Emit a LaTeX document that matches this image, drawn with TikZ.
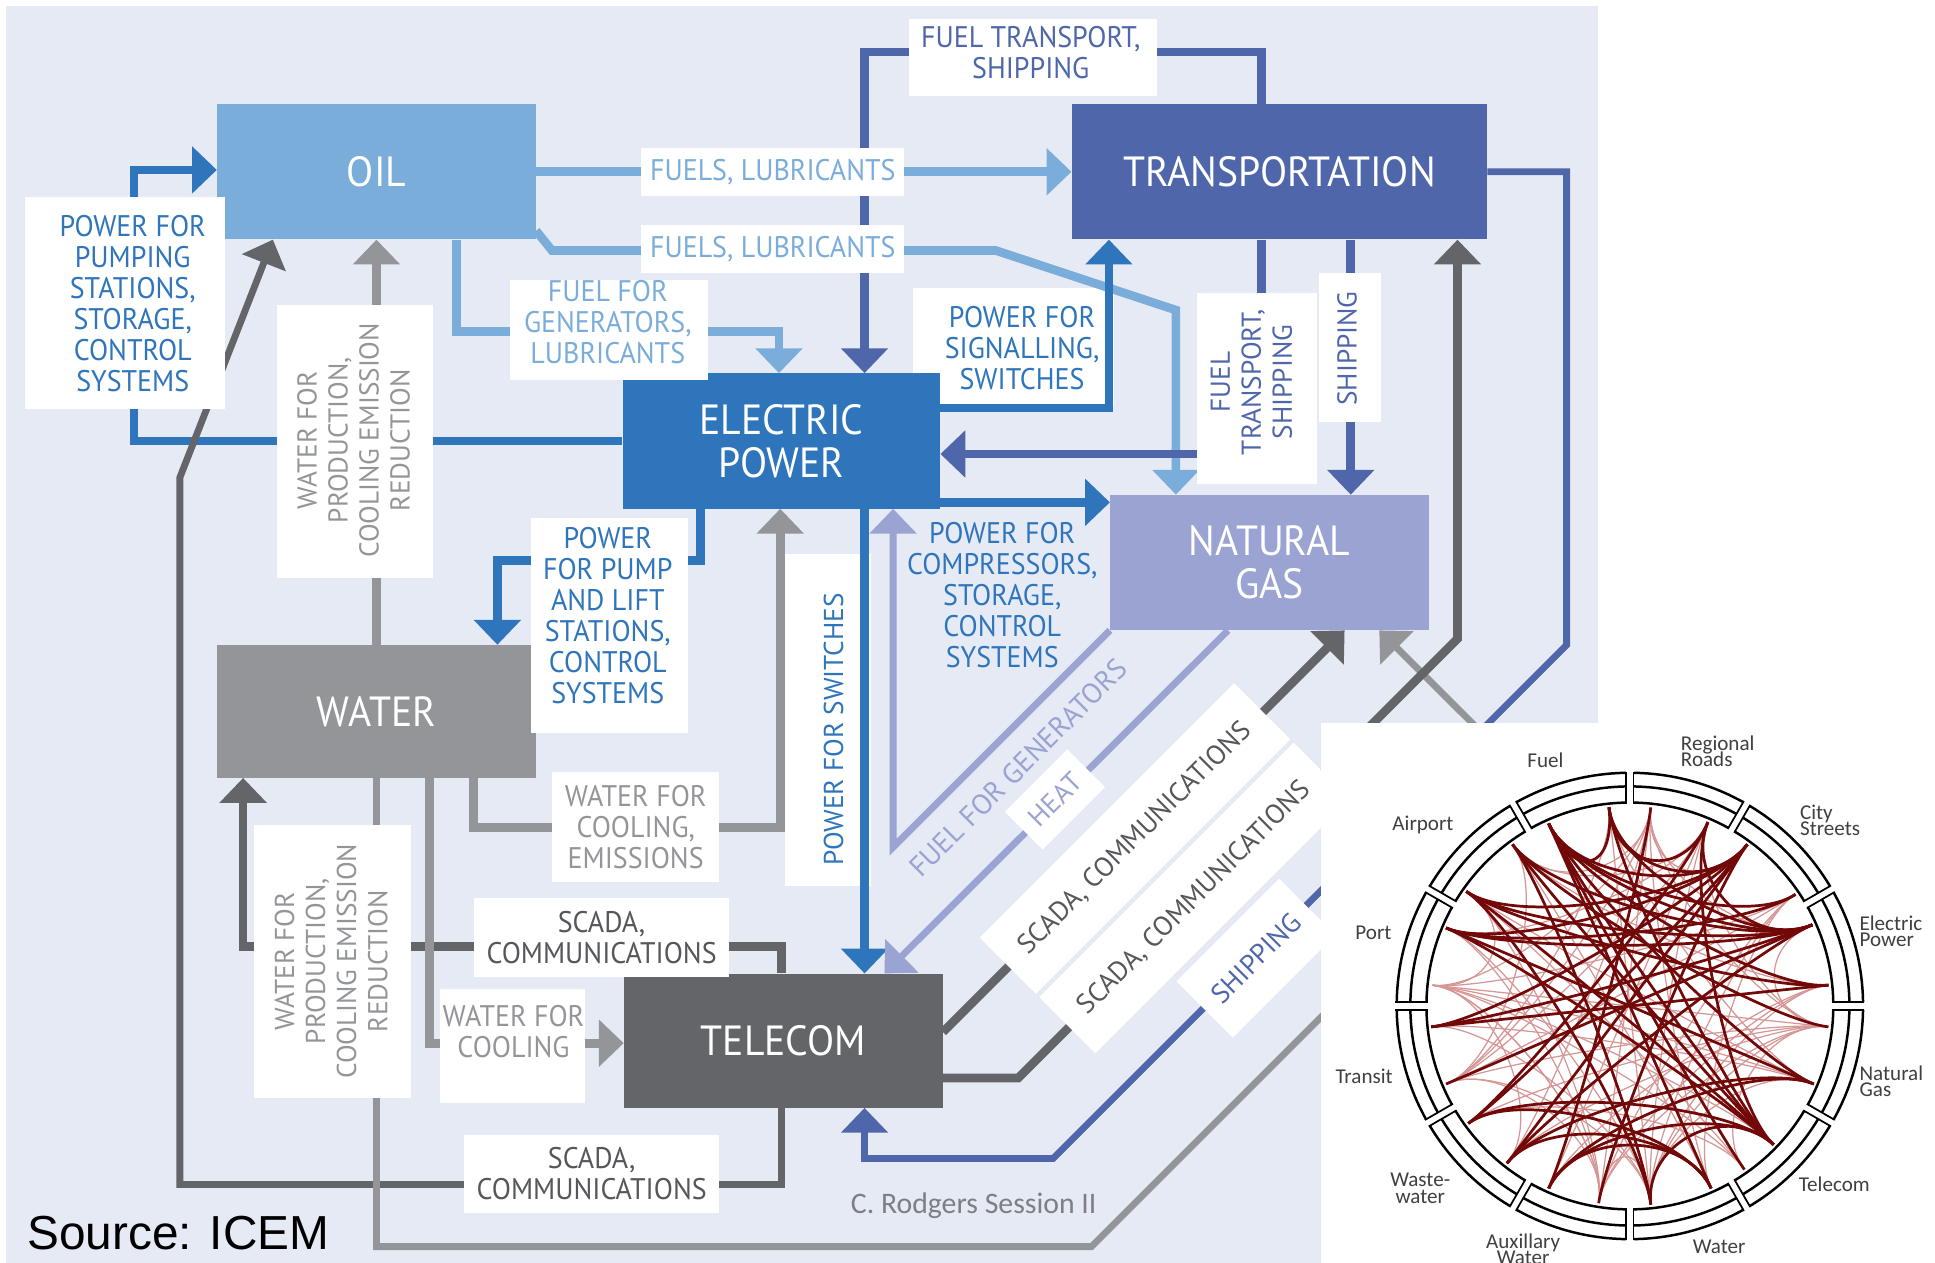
\documentclass[tikz,border=0pt]{standalone}
\usepackage{fontspec}
\setmainfont{PT Sans}
\newfontfamily\dinf[FakeStretch=0.94]{PT Sans}
\newfontfamily\dinw{PT Sans}
\newfontfamily\carl{Carlito}
\newfontfamily\arialf{Liberation Sans}
\usetikzlibrary{arrows.meta}
\definecolor{bgc}{RGB}{230,234,245}
\definecolor{oilc}{RGB}{123,173,218}
\definecolor{transc}{RGB}{79,103,170}
\definecolor{epc}{RGB}{46,117,187}
\definecolor{ngc}{RGB}{154,163,209}
\definecolor{waterc}{RGB}{147,149,152}
\definecolor{telc}{RGB}{99,101,105}
\definecolor{teltext}{RGB}{85,87,91}
\definecolor{chordd}{RGB}{115,8,8}
\definecolor{chordl}{RGB}{214,150,150}
\definecolor{lblc}{RGB}{64,64,64}
\definecolor{rodc}{RGB}{125,127,132}
\pgfdeclarelayer{bg}
\pgfdeclarelayer{under}
\pgfdeclarelayer{lines}
\pgfdeclarelayer{top}
\pgfsetlayers{bg,under,lines,main,top}
\tikzset{
  conn/.style={line width=7pt},
  thinconn/.style={line width=5.5pt},
  tip/.style={-{Triangle[width=37pt,length=20pt]}},
  sys/.style={minimum width=257pt, minimum height=109pt, inner sep=0pt, text=white,
    font=\dinf\fontsize{34}{35}\selectfont, align=center},
  lbox/.style={fill=white, inner sep=0pt},
  ltext/.style={inner sep=0pt, align=center, font=\dinf\fontsize{24}{25}\selectfont},
  rtext/.style={inner sep=0pt, align=center, font=\dinw\fontsize{22}{25}\selectfont, rotate=90},
  dtext/.style={inner sep=0pt, align=center, font=\dinw\fontsize{22}{25}\selectfont, rotate=45},
  dch/.style={chordd, line width=2.2pt},
  lch/.style={chordl, line width=1pt},
  clbl/.style={inner sep=0pt, text=lblc, font=\carl\fontsize{17}{17}\selectfont, align=left},
}
\begin{document}
\begin{tikzpicture}[x=1pt,y=-1pt]
\useasboundingbox (0,0) rectangle (1560,1018);
\begin{pgfonlayer}{bg}
\fill[bgc] (5,5) rectangle (1288,1018);
\end{pgfonlayer}

% system nodes
\node[sys, fill=oilc] (oil) at (303.5,138.5) {OIL};
\node[sys, fill=transc, minimum width=335pt] (trans) at (1031.5,138.5) {TRANSPORTATION};
\node[sys, fill=epc, minimum width=256pt] (ep) at (630,355.5) {ELECTRIC\\POWER};
\node[sys, fill=ngc] (ng) at (1023.5,453.5) {NATURAL\\GAS};
\node[sys, fill=waterc, minimum height=107pt] (water) at (303.5,573.5) {WATER};
\node[sys, fill=telc, minimum height=108pt] (tel) at (631.5,839) {TELECOM};

% boxes under lines
\begin{pgfonlayer}{under}
\node[lbox, minimum width=162pt, minimum height=96pt] (bF) at (817,280) {};
\node[lbox, minimum width=69pt, minimum height=267pt] (bK) at (667.5,580.5) {};
\end{pgfonlayer}
\node[ltext, text=epc] (tF) at (824,281) {POWER FOR\\SIGNALLING,\\SWITCHES};
\node[rtext, text=epc] (tK) at (672,588) {POWER FOR SWITCHES};

% label boxes
\node[lbox, minimum width=161pt, minimum height=171pt] (bA) at (100.5,244.5) {};
\node[ltext, text=epc] (tA) at (107,245) {POWER FOR\\PUMPING\\STATIONS,\\STORAGE,\\CONTROL\\SYSTEMS};
\node[lbox, minimum width=212pt, minimum height=39pt, ltext, text=oilc] (bB) at (623,138.5) {FUELS, LUBRICANTS};
\node[lbox, minimum width=212pt, minimum height=39pt, ltext, text=oilc] (bC) at (623,200.5) {FUELS, LUBRICANTS};
\node[lbox, minimum width=160pt, minimum height=80pt] (bD) at (491,266) {};
\node[ltext, text=oilc] (tD) at (490,260) {FUEL FOR\\GENERATORS,\\LUBRICANTS};
\node[lbox, minimum width=200pt, minimum height=62pt] (bE) at (833,46) {};
\node[ltext, text=transc] (tE) at (831,42) {FUEL TRANSPORT,\\SHIPPING};
\node[lbox, minimum width=97pt, minimum height=154pt] (bG) at (1013.5,313) {};
\node[rtext, text=transc] (tG) at (1009,308) {FUEL\\TRANSPORT,\\SHIPPING};
\node[lbox, minimum width=50pt, minimum height=120pt] (bH) at (1088,280) {};
\node[rtext, text=transc] (tH) at (1086,281) {SHIPPING};
\node[ltext, text=epc] (tI) at (808,480) {POWER FOR\\COMPRESSORS,\\STORAGE,\\CONTROL\\SYSTEMS};
\node[lbox, minimum width=127pt, minimum height=173pt] (bJ) at (491.5,504.5) {};
\node[ltext, text=epc] (tJ) at (490,496) {POWER\\FOR PUMP\\AND LIFT\\STATIONS,\\CONTROL\\SYSTEMS};
\node[lbox, minimum width=135pt, minimum height=89pt, ltext, text=waterc] (bL) at (512.5,666.5) {WATER FOR\\COOLING,\\EMISSIONS};
\node[lbox, minimum width=126pt, minimum height=220pt] (bM) at (286,356) {};
\node[rtext, text=waterc] (tM) at (285,355) {WATER FOR\\PRODUCTION,\\COOLING EMISSION\\REDUCTION};
\node[lbox, minimum width=126pt, minimum height=220pt] (bP) at (268,775) {};
\node[rtext, text=waterc] (tP) at (267,775) {WATER FOR\\PRODUCTION,\\COOLING EMISSION\\REDUCTION};
\node[lbox, minimum width=117pt, minimum height=92pt] (bN) at (413.5,843) {};
\node[ltext, text=waterc] (tN) at (414,832) {WATER FOR\\COOLING};
\node[lbox, minimum width=206pt, minimum height=64pt, ltext, text=teltext] (bO) at (485,756) {SCADA,\\COMMUNICATIONS};
\node[lbox, minimum width=206pt, minimum height=63pt, ltext, text=teltext] (bQ) at (477,946.5) {SCADA,\\COMMUNICATIONS};

% diagonal bands
\node[lbox, dtext, minimum width=290pt, minimum height=64pt, text=teltext] (band1) at (915,676) {SCADA, COMMUNICATIONS};
\node[lbox, dtext, minimum width=290pt, minimum height=64pt, text=teltext] (band2) at (963,724) {SCADA, COMMUNICATIONS};
\node[lbox, dtext, minimum width=117pt, minimum height=64pt, text=transc] (band3) at (1012.5,772.5) {SHIPPING};
\node[lbox, dtext, minimum width=71pt, minimum height=43pt, text=ngc] (heat) at (850.5,644.5) {HEAT};
\node[dtext, text=ngc, font=\dinw\fontsize{23}{25}\selectfont] (tU) at (821,619) {FUEL FOR GENERATORS};

% connectors
\begin{pgfonlayer}{lines}
\draw[conn, tip, epc] (ep.west) -- (108,355.5) -- (108,137) -- (oil.west |- 0,137);
\draw[conn, tip, oilc] (oil.east) -- (trans.west);
\draw[conn, tip, oilc] (oil.east |- 0,186) -- (445,202) -- (803,202) -- (948,250) -- (ng.north -| 948,0);
\draw[conn, tip, oilc] (oil.south -| 368,0) -- (368,267) -- (628,267) -- (ep.north -| 628,0);
\draw[conn, tip, transc] (trans.north -| 1017,0) -- (1017,42) -- (697,42) -- (ep.north -| 697,0);
\draw[conn, tip, epc] (ep.east |- 0,329) -- (894,329) -- (trans.south -| 894,0);
\draw[conn, tip, transc] (trans.south -| 1017,0) -- (1017,366) -- (ep.east |- 0,366);
\draw[conn, tip, transc] (trans.south -| 1089,0) -- (ng.north -| 1089,0);
\draw[conn, tip, epc] (ep.east |- 0,405) -- (ng.west |- 0,405);
\draw[conn, tip, epc] (ep.south -| 565,0) -- (565,452) -- (401,452) -- (water.north -| 401,0);
\draw[conn, tip, epc] (ep.south -| 697,0) -- (tel.north -| 697,0);
\draw[conn, tip, waterc] (water.south -| 382,0) -- (382,667) -- (629,667) -- (ep.south -| 629,0);
\draw[conn, tip, waterc] (water.north) -- (oil.south);
\draw[conn, tip, telc] (tel.north -| 630,0) -- (630,763) -- (196,763) -- (water.south -| 196,0);
\draw[conn, tip, waterc] (water.south -| 346,0) -- (346,841) -- (tel.west |- 0,841);
\draw[thinconn, tip, telc] (tel.south -| 630,0) -- (630,955) -- (145,955) -- (145,385) -- (oil.south -| 220,0);
\draw[thinconn, tip, waterc] (water.south) -- (303.5,1005) -- (880,1005) -- (1244.5,640.5) -- (ng.south -| 1112,0);
\draw[conn, tip, telc] (tel.east |- 0,869) -- (821,869) -- (1175,515) -- (trans.south -| 1175,0);
\draw[conn, tip, telc] (tel.east |- 0,832) -- (ng.south -| 1084,0);
\draw[thinconn, tip, transc] (trans.east) -- (1263,138.5) -- (1263,520) -- (849,934) -- (697,934) -- (tel.south -| 697,0);
\draw[thinconn, tip, ngc] (ng.south west) -- (720,683) -- (ep.south -| 720,0);
\draw[thinconn, tip, ngc] (ng.south -| 990,0) -- (tel.north -| 713,0);
\end{pgfonlayer}

\node[inner sep=0pt, text=rodc, font=\carl\fontsize{24}{24}\selectfont] (rod) at (785,972) {C. Rodgers Session II};
\node[inner sep=0pt, anchor=base west, font=\arialf\fontsize{38.5}{39}\selectfont] (src) at (22,1007) {Source: ICEM};

% chord diagram panel
\begin{pgfonlayer}{top}
\fill[white] (1065,583) rectangle (1560,1018);
\begin{scope}[shift={(1314,811)}]
\foreach \p/\q in {84/-99, 84/-6, 84/174, 84/-157, 84/24, 84/126, 84/-66, -99/174, -99/-6, -99/34, -99/-157, -99/6, 174/-6, 174/-23, 174/34, 174/-44, 174/-128, -157/-6, -157/34, -157/67, -157/-84, -6/67, -6/126, -6/-128, -6/-84, 6/-84, 6/-114, 6/126, 34/-84, 34/-66, 67/-84, 67/157, 67/-114, 126/-66, 126/-157, 145/-99, 145/-23, 157/-84, 157/-99, -23/-84, -23/96, -55/174, -55/145, -55/-144, 96/-84, 96/-157, -144/-6, -174/-84, -174/-23, 126/67, 84/54, -99/-84, -6/24, 174/145, -6/-55, 84/-128, 174/-99}
  \draw[lch] (\p:160pt) .. controls (\p:110pt) and (\q:110pt) .. (\q:160pt);
\foreach \p/\q in {114/24, 114/34, 114/-44, 114/-55, 114/-66, 114/6, 114/-23, 114/96, 114/54, 54/157, 54/-174, 54/145, 54/-128, 54/-144, 54/96, 54/-99, 24/157, 24/-174, 24/145, 24/126, 24/-157, 24/96, 24/-128, 24/67, -44/126, -44/145, -44/96, -44/-114, -44/-144, -44/67, -44/157, -44/-84, -128/-66, -128/-23, -114/-23, -114/-66, -84/126, -84/145, -66/-144, 157/34, 157/-23, -174/6, 145/6, 126/-6, 96/67, 84/-114, 67/-144}
  \draw[dch] (\p:161pt) .. controls (\p:110pt) and (\q:110pt) .. (\q:161pt);
\foreach \r in {188,177,164} \draw[line width=2pt] (0,0) circle[radius=\r pt];
\foreach \a in {0,30,...,330} {
  \fill[white] ([shift={(\a+90:3pt)}]\a:162pt) -- ([shift={(\a+90:3pt)}]\a:190pt) -- ([shift={(\a-90:3pt)}]\a:190pt) -- ([shift={(\a-90:3pt)}]\a:162pt) -- cycle;
  \draw[line width=1.4pt] ([shift={(\a+90:3pt)}]\a:163pt) -- ([shift={(\a+90:3pt)}]\a:189pt);
  \draw[line width=1.4pt] ([shift={(\a-90:3pt)}]\a:163pt) -- ([shift={(\a-90:3pt)}]\a:189pt);
}
\end{scope}
\node[clbl] (cFuel) at (1246,613) {Fuel};
\node[clbl, anchor=west] (cRR) at (1355,606) {Regional\\[-4pt]Roads};
\node[clbl, anchor=west] (cCS) at (1451,661) {City\\[-4pt]Streets};
\node[clbl, anchor=west] (cEP) at (1499,751) {Electric\\[-4pt]Power};
\node[clbl, anchor=west] (cNG) at (1499,872) {Natural\\[-4pt]Gas};
\node[clbl, anchor=west] (cTel) at (1450,955) {Telecom};
\node[clbl] (cW) at (1386,1005) {Water};
\node[clbl, align=center] (cAW) at (1228,1007) {Auxillary\\[-4pt]Water};
\node[clbl, align=center] (cWW) at (1145,958) {Waste-\\[-4pt]water};
\node[clbl, anchor=east] (cTr) at (1123,868) {Transit};
\node[clbl, anchor=east] (cPort) at (1122,752) {Port};
\node[clbl, anchor=east] (cAir) at (1172,665) {Airport};
\end{pgfonlayer}
\end{tikzpicture}
\end{document}
